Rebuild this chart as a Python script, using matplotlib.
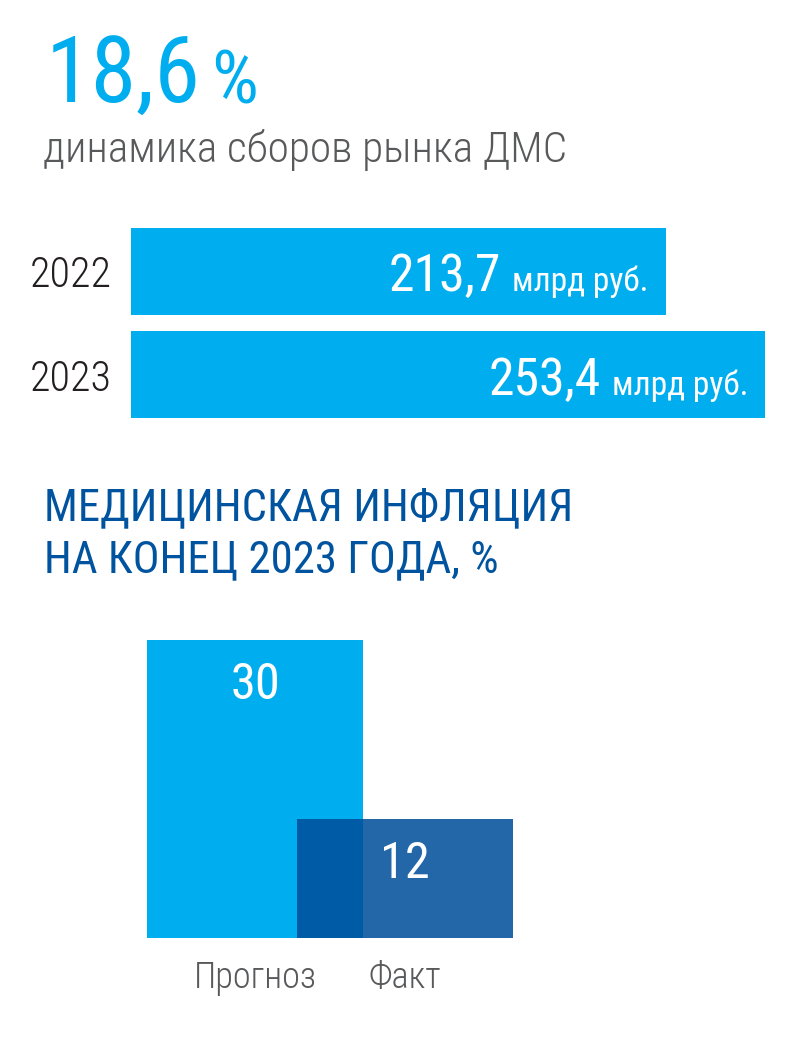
import os
import matplotlib
matplotlib.use("Agg")
import matplotlib.pyplot as plt
from matplotlib import font_manager
from matplotlib.font_manager import FontProperties

# --- DATA ---
headline = "18,6"
headline_unit = "%"
subtitle = "динамика сборов рынка ДМС"

years = ["2022", "2023"]
fees = [213.7, 253.4]
fee_labels = ["213,7", "253,4"]
fee_unit = "млрд руб."

infl_title = ["МЕДИЦИНСКАЯ ИНФЛЯЦИЯ", "НА КОНЕЦ 2023 ГОДА, %"]
infl_cats = ["Прогноз", "Факт"]
infl_vals = [30, 12]

# --- STYLE ---
LIGHT = "#00AEEF"
DARK = "#004E9B"
TITLE = "#00539F"
GRAY = "#58595B"
BLACK = "#231F20"

files = {os.path.basename(f.fname): f.fname for f in font_manager.fontManager.ttflist}


def pick(*cands):
    for c in cands:
        if c in files:
            return files[c]
    return None


REG = pick("NotoSans-ExtraCondensed.ttf", "RobotoCondensed-Regular.ttf",
           "LiberationSansNarrow-Regular.ttf", "NotoSans-Condensed.ttf",
           "DejaVuSansCondensed.ttf")
LIT = pick("NotoSans-ExtraCondensedLight.ttf", "RobotoCondensed-Light.ttf") or REG


def fp(path, cap_px):
    # font size from wanted cap height in pixels
    size = cap_px / 0.715 * 72 / 100
    if path is None:
        return FontProperties(family="DejaVu Sans", stretch="condensed", size=size)
    return FontProperties(fname=path, size=size)


W, H = 809, 1041
fig = plt.figure(figsize=(W / 100, H / 100), dpi=100)


def px_axes(x0, y0, x1, y1):
    return fig.add_axes([x0 / W, 1 - y1 / H, (x1 - x0) / W, (y1 - y0) / H])


# headline
head = fig.text(46 / W, 1 - 103 / H, headline, color=LIGHT, fontproperties=fp(REG, 66),
                va="baseline", ha="left")
fig.text(43 / W, 1 - 162 / H, subtitle, color=GRAY, fontproperties=fp(LIT, 31),
         va="baseline", ha="left")

# --- horizontal bars ---
ax1 = px_axes(131, 228, 809, 418)
ypos = list(range(len(years)))
ax1.barh(ypos, fees, height=0.836, color=LIGHT)
ax1.set_xlim(0, 678 / 2.5035)
ax1.set_ylim(1.418, -0.418)
ax1.set_yticks(ypos, years)
ax1.tick_params(axis="y", length=0, pad=14, labelcolor=BLACK)
for t in ax1.get_yticklabels():
    t.set_fontproperties(fp(LIT, 30))
ax1.set_xticks([])
for s in ax1.spines.values():
    s.set_visible(False)

units = []
for y, v in zip(ypos, fees):
    units.append(ax1.annotate(fee_unit, (v, y), xytext=(-17, -20), textcoords="offset pixels",
                              ha="right", va="baseline", color="white",
                              fontproperties=fp(REG, 24)))
fig.canvas.draw()
r = fig.canvas.get_renderer()
for y, v, lab, u in zip(ypos, fees, fee_labels, units):
    uw = u.get_window_extent(r).width
    ax1.annotate(lab, (v, y), xytext=(-17 - uw - 11, -20), textcoords="offset pixels",
                 ha="right", va="baseline", color="white", fontproperties=fp(REG, 37))

hb = head.get_window_extent(r)
fig.text((hb.x1 + 10) / W, 1 - 103 / H, headline_unit, color=LIGHT,
         fontproperties=fp(REG, 53), va="baseline", ha="left")

# title of second block
fig.text(44 / W, 1 - 520 / H, infl_title[0], color=TITLE, fontproperties=fp(REG, 32),
         va="baseline", ha="left")
fig.text(44 / W, 1 - 572 / H, infl_title[1], color=TITLE, fontproperties=fp(REG, 32),
         va="baseline", ha="left")

# --- vertical bars ---
ax2 = px_axes(100, 600, 600, 938)
xpos = list(range(len(infl_cats)))
ax2.bar(xpos[0], infl_vals[0], width=1.443, color=LIGHT)
ax2.bar(xpos[1], infl_vals[1], width=1.443, color=DARK, alpha=0.86)
ax2.set_xlim(-155 / 150, 1 + 195 / 150)
ax2.set_ylim(0, 338 / 9.93)
ax2.set_xticks(xpos, infl_cats)
ax2.tick_params(axis="x", length=0, pad=16, labelcolor=GRAY)
for t in ax2.get_xticklabels():
    t.set_fontproperties(fp(LIT, 26))
ax2.set_yticks([])
for s in ax2.spines.values():
    s.set_visible(False)
for x, v in zip(xpos, infl_vals):
    ax2.annotate(str(v), (x, v), xytext=(0, -21), textcoords="offset pixels",
                 ha="center", va="top", color="white", fontproperties=fp(REG, 36))

fig.savefig("out.png", dpi=100)
